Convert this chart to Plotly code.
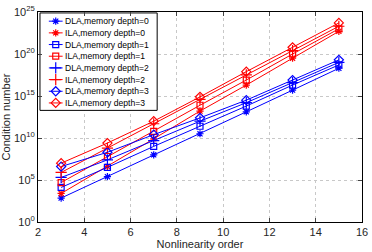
import plotly.graph_objects as go

orders = [3, 5, 7, 9, 11, 13, 15]

dla_md0 = [7.1e2, 2.5e5, 1.0e8, 3.2e10, 1.3e13, 5.0e15, 2.0e18]
ila_md0 = [2.5e3, 4.0e6, 8.0e9, 1.6e13, 2.0e16, 3.2e19, 5.0e22]
dla_md1 = [1.3e4, 3.2e6, 1.0e9, 2.5e11, 6.3e13, 2.0e16, 5.0e18]
ila_md1 = [5.0e4, 6.3e7, 6.3e10, 7.9e13, 7.9e16, 1.0e20, 1.0e23]
dla_md2 = [2.0e5, 2.5e7, 5.0e9, 1.0e12, 1.6e14, 4.0e16, 1.0e19]
ila_md2 = [7.9e5, 6.3e8, 5.0e11, 4.0e14, 3.2e17, 2.5e20, 2.0e23]
dla_md3 = [4.0e6, 2.0e8, 2.5e10, 2.5e12, 3.2e14, 7.9e16, 2.0e19]
ila_md3 = [1.0e7, 2.5e9, 1.0e12, 7.9e14, 7.9e17, 6.3e20, 5.0e23]

names = ["DLA,memory depth=0", "ILA,memory depth=0",
         "DLA,memory depth=1", "ILA,memory depth=1",
         "DLA,memory depth=2", "ILA,memory depth=2",
         "DLA,memory depth=3", "ILA,memory depth=3"]
series = [dla_md0, ila_md0, dla_md1, ila_md1, dla_md2, ila_md2, dla_md3, ila_md3]

x_ticks = [2, 4, 6, 8, 10, 12, 14, 16]
y_exps = [0, 5, 10, 15, 20, 25]

BLUE = "#0000ff"
RED = "#ff0000"
colors = [BLUE, RED] * 4
symbols = ["asterisk-open", "asterisk-open", "square-open", "square-open",
           "cross-thin-open", "cross-thin-open", "diamond-open", "diamond-open"]
sizes = [6, 6, 6, 6, 8, 8, 7, 7]

FONT = "Liberation Sans, Arial, sans-serif"

fig = go.Figure()
for n, s, c, sym, sz in zip(names, series, colors, symbols, sizes):
    fig.add_trace(go.Scatter(
        x=orders, y=s, mode="lines+markers", name=n,
        line=dict(color=c, width=1),
        marker=dict(symbol=sym, size=sz, color=c, line=dict(color=c, width=1.2)),
        showlegend=False, xaxis="x", yaxis="y"))

# custom legend drawn in a pixel-coordinate overlay axis
L, R, T, B = 35, 364, 4, 226
bx0, bx1, by0, by1 = 37, 156, 5, 108
fig.add_trace(go.Scatter(
    x=[bx0, bx1, bx1, bx0, bx0], y=[by0, by0, by1, by1, by0],
    mode="lines", fill="toself", fillcolor="white",
    line=dict(color="black", width=1), showlegend=False,
    xaxis="x2", yaxis="y2", hoverinfo="skip"))
for i, (n, c, sym, sz) in enumerate(zip(names, colors, symbols, sizes)):
    yy = 13.7 + 12.35 * i
    fig.add_trace(go.Scatter(
        x=[46, 60], y=[yy, yy], mode="lines", line=dict(color=c, width=1),
        showlegend=False, xaxis="x2", yaxis="y2", hoverinfo="skip"))
    fig.add_trace(go.Scatter(
        x=[53], y=[yy], mode="markers",
        marker=dict(symbol=sym, size=sz, color=c, line=dict(color=c, width=1.2)),
        showlegend=False, xaxis="x2", yaxis="y2", hoverinfo="skip"))
    fig.add_annotation(x=60, y=yy, xref="x2", yref="y2", text=n,
                       showarrow=False, xanchor="left", yanchor="middle",
                       font=dict(size=8.6, color="black", family=FONT))

fig.update_layout(
    width=372, height=252,
    margin=dict(l=L, r=372 - R, t=T, b=252 - B),
    paper_bgcolor="white", plot_bgcolor="white",
    font=dict(family=FONT, size=11, color="#262626"),
    showlegend=False,
    xaxis=dict(range=[2, 16], tickvals=x_ticks, ticks="inside", ticklen=4,
               showline=True, linecolor="black", linewidth=1, mirror="ticks",
               showgrid=True, gridcolor="#c8c8c8", griddash="dot", gridwidth=1,
               zeroline=False, ticklabeloverflow="allow",
               title=dict(text="Nonlinearity order", standoff=2,
                          font=dict(size=11, family=FONT))),
    yaxis=dict(type="log", range=[0, 25],
               tickvals=[float("1e%d" % e) for e in y_exps],
               ticktext=["10<sup>%d</sup>" % e for e in y_exps],
               ticks="inside", ticklen=4, ticklabeloverflow="allow",
               showline=True, linecolor="black", linewidth=1, mirror="ticks",
               showgrid=True, gridcolor="#c8c8c8", griddash="dot", gridwidth=1,
               zeroline=False,
               title=dict(text="Condition number", standoff=2,
                          font=dict(size=11, family=FONT))),
    xaxis2=dict(range=[L, R], overlaying="x", visible=False, fixedrange=True),
    yaxis2=dict(range=[B, T], overlaying="y", visible=False, fixedrange=True),
)

fig.write_html("out.html")
